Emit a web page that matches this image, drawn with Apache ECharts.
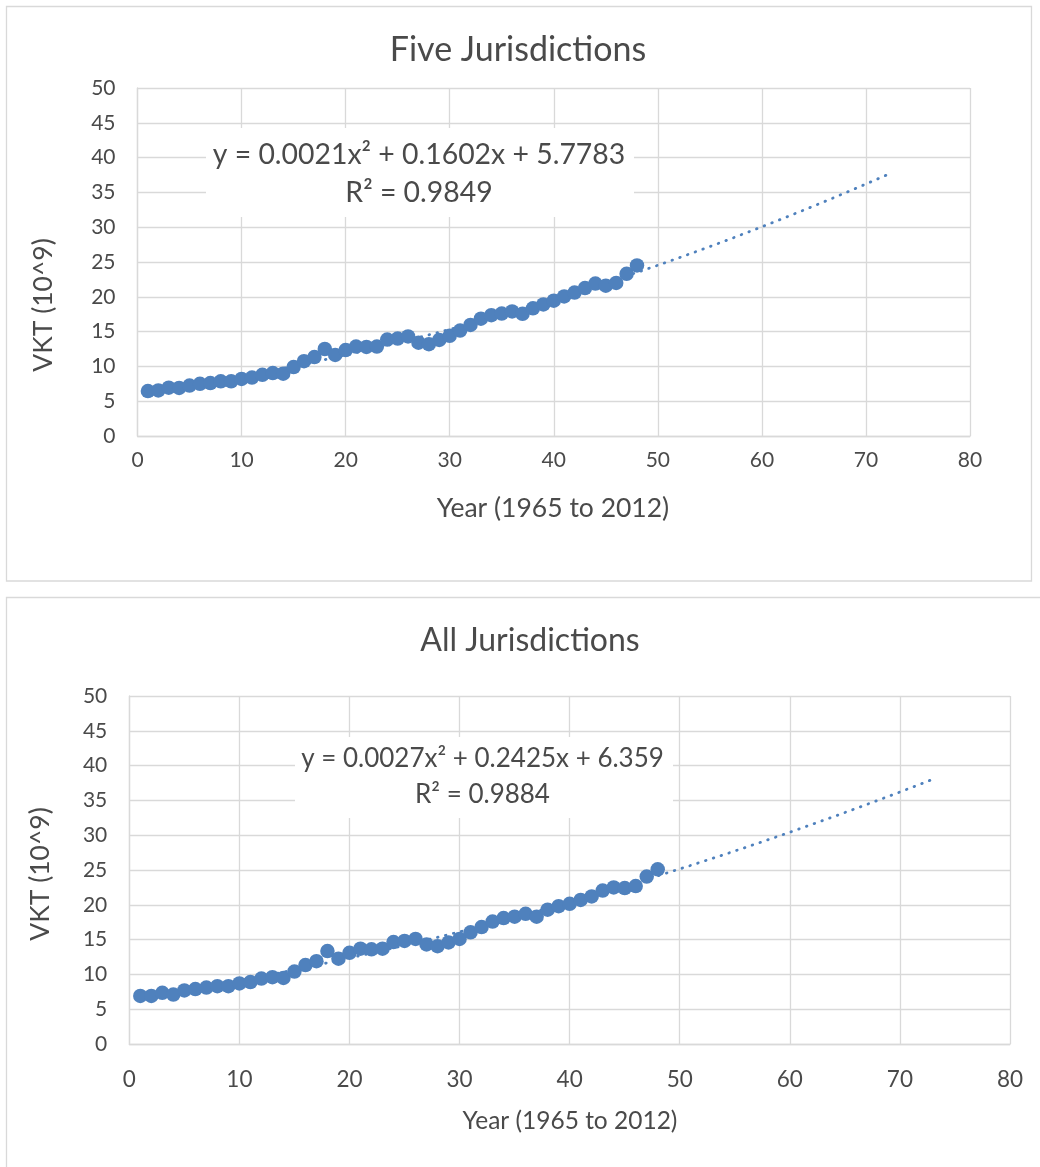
<!DOCTYPE html>
<html><head><meta charset="utf-8">
<script src="https://cdn.jsdelivr.net/npm/echarts@6/dist/echarts.min.js"></script>
<style>html,body{margin:0;padding:0;background:#fff;}#c{width:1040px;height:1167px;}</style>
</head><body><div id="c"></div>
<script>
// ---- data ----
const years = [1,2,3,4,5,6,7,8,9,10,11,12,13,14,15,16,17,18,19,20,21,22,23,24,25,26,27,28,29,30,31,32,33,34,35,36,37,38,39,40,41,42,43,44,45,46,47,48];
const fiveVKT = [6.45,6.55,6.95,6.9,7.25,7.5,7.6,7.85,7.85,8.2,8.4,8.8,9.05,8.95,9.9,10.75,11.35,12.5,11.65,12.35,12.85,12.8,12.85,13.85,14.0,14.3,13.4,13.2,13.8,14.4,15.15,15.95,16.85,17.35,17.6,17.9,17.55,18.35,18.9,19.45,20.05,20.6,21.25,21.9,21.6,22.0,23.3,24.5];
const allVKT = [6.9,6.9,7.35,7.1,7.7,7.9,8.1,8.3,8.3,8.7,8.9,9.4,9.6,9.5,10.4,11.35,11.9,13.35,12.25,13.1,13.7,13.6,13.7,14.65,14.8,15.1,14.3,14.05,14.6,15.1,16.05,16.8,17.6,18.1,18.3,18.7,18.3,19.3,19.8,20.15,20.7,21.2,22.05,22.5,22.4,22.7,24.05,25.1];
const xTicks = [0,10,20,30,40,50,60,70,80];
const yTicks = [0,5,10,15,20,25,30,35,40,45,50];
const chartTitles = ['Five Jurisdictions', 'All Jurisdictions'];
const equationLines = [
  ['y = 0.0021x\u00B2 + 0.1602x + 5.7783', 'R\u00B2 = 0.9849'],
  ['y = 0.0027x\u00B2 + 0.2425x + 6.359', 'R\u00B2 = 0.9884']
];
const xAxisTitle = 'Year (1965 to 2012)';
const yAxisTitle = 'VKT (10^9)';

// ---- polynomial (order 2) least-squares trendline, as the spreadsheet computes it ----
function quadFit(xs, ys) {
  let S = [0,0,0,0,0], T = [0,0,0];
  for (let i = 0; i < xs.length; i++) {
    let p = 1;
    for (let k = 0; k < 5; k++) { S[k] += p; if (k < 3) T[k] += p * ys[i]; p *= xs[i]; }
  }
  const M = [[S[0],S[1],S[2],T[0]],[S[1],S[2],S[3],T[1]],[S[2],S[3],S[4],T[2]]];
  for (let c = 0; c < 3; c++) {
    for (let r = c + 1; r < 3; r++) {
      const f = M[r][c] / M[c][c];
      for (let k = c; k < 4; k++) M[r][k] -= f * M[c][k];
    }
  }
  const b = [0,0,0];
  for (let r = 2; r >= 0; r--) {
    let s = M[r][3];
    for (let k = r + 1; k < 3; k++) s -= M[r][k] * b[k];
    b[r] = s / M[r][r];
  }
  return b; // a0 + a1 x + a2 x^2
}
function trendPoints(xs, ys, xEnd) {
  const b = quadFit(xs, ys);
  const pts = [];
  for (let x = xs[0]; x <= xEnd + 1e-9; x += 0.25) pts.push([x, b[0] + b[1]*x + b[2]*x*x]);
  return pts;
}

// ---- style / layout ----
const FONT = 'Lato, "Open Sans", sans-serif';
const TXT = '#4a4a4a';
const GRID_C = '#d9d9d9';
const BLUE = '#4F81BD';

const panels = [
  { grid: {left: 137.5, top: 88, width: 832.5, height: 348}, data: fiveVKT, trendEnd: 72.5,
    xLabelSize: 21, yLabelSize: 21, xLabelMargin: 14,
    title: {x: 518, y: 50, size: 34}, xt: {x: 553, y: 508, size: 26.5}, yt: {x: 43, y: 305, size: 26.5},
    eq: {x: 206, y: 128, w: 428, h: 89, cx: 419, l1: 155, l2: 193, size: 28.4} },
  { grid: {left: 129.3, top: 696, width: 880.7, height: 348}, data: allVKT, trendEnd: 73,
    xLabelSize: 22.5, yLabelSize: 21, xLabelMargin: 24,
    title: {x: 530, y: 641, size: 32}, xt: {x: 570, y: 1121, size: 24.5}, yt: {x: 40, y: 874, size: 26.5},
    eq: {x: 295, y: 737, w: 378, h: 81, cx: 482.5, l1: 759, l2: 795, size: 26} }
];

const chart = echarts.init(document.getElementById('c'), null, {renderer: 'canvas'});

const option = {
  animation: false,
  backgroundColor: '#fff',
  grid: panels.map(p => Object.assign({containLabel: false}, p.grid)),
  xAxis: panels.map((p, i) => ({
    type: 'value', gridIndex: i, min: xTicks[0], max: xTicks[xTicks.length-1], interval: xTicks[1]-xTicks[0],
    axisLine: {show: true, lineStyle: {color: GRID_C, width: 1.3}},
    axisTick: {show: false},
    splitLine: {show: true, lineStyle: {color: GRID_C, width: 1.3}},
    axisLabel: {color: TXT, fontFamily: FONT, fontSize: p.xLabelSize, margin: p.xLabelMargin}
  })),
  yAxis: panels.map((p, i) => ({
    type: 'value', gridIndex: i, min: yTicks[0], max: yTicks[yTicks.length-1], interval: yTicks[1]-yTicks[0],
    axisLine: {show: true, lineStyle: {color: GRID_C, width: 1.3}},
    axisTick: {show: false},
    splitLine: {show: true, lineStyle: {color: GRID_C, width: 1.3}},
    axisLabel: {color: TXT, fontFamily: FONT, fontSize: p.yLabelSize, margin: 22}
  })),
  series: [],
  graphic: []
};

panels.forEach((p, i) => {
  option.series.push({
    type: 'line', xAxisIndex: i, yAxisIndex: i, z: 1,
    data: trendPoints(years, p.data, p.trendEnd),
    showSymbol: false, symbol: 'none', silent: true,
    lineStyle: {color: BLUE, width: 2.8, type: [0.6, 7.6], cap: 'round', opacity: 1}
  });
  option.series.push({
    type: 'scatter', xAxisIndex: i, yAxisIndex: i, z: 3,
    data: years.map((x, k) => [x, p.data[k]]),
    symbol: 'circle', symbolSize: 14.5,
    itemStyle: {color: BLUE, opacity: 1}
  });
});

const g = [];
// outer chart frames
g.push({type: 'rect', z: 0, shape: {x: 6.5, y: 6.5, width: 1025, height: 574.5}, style: {fill: null, stroke: GRID_C, lineWidth: 1.3}});
g.push({type: 'rect', z: 0, shape: {x: 6.5, y: 597.5, width: 1100, height: 700}, style: {fill: null, stroke: GRID_C, lineWidth: 1.3}});
panels.forEach((p, i) => {
  g.push({type: 'text', z: 20, x: p.title.x, y: p.title.y,
    style: {text: chartTitles[i], fill: TXT, fontFamily: FONT, fontSize: p.title.size, align: 'center', verticalAlign: 'middle'}});
  g.push({type: 'text', z: 20, x: p.xt.x, y: p.xt.y,
    style: {text: xAxisTitle, fill: TXT, fontFamily: FONT, fontSize: p.xt.size, align: 'center', verticalAlign: 'middle'}});
  g.push({type: 'text', z: 20, x: p.yt.x, y: p.yt.y, rotation: Math.PI/2,
    style: {text: yAxisTitle, fill: TXT, fontFamily: FONT, fontSize: p.yt.size, align: 'center', verticalAlign: 'middle'}});
  g.push({type: 'rect', z: 30, shape: {x: p.eq.x, y: p.eq.y, width: p.eq.w, height: p.eq.h}, style: {fill: '#fff', stroke: null}});
  g.push({type: 'text', z: 31, x: p.eq.cx, y: p.eq.l1,
    style: {text: equationLines[i][0], fill: TXT, fontFamily: FONT, fontSize: p.eq.size, align: 'center', verticalAlign: 'middle'}});
  g.push({type: 'text', z: 31, x: p.eq.cx, y: p.eq.l2,
    style: {text: equationLines[i][1], fill: TXT, fontFamily: FONT, fontSize: p.eq.size, align: 'center', verticalAlign: 'middle'}});
});
option.graphic = g;

chart.setOption(option);
</script>
</body></html>
